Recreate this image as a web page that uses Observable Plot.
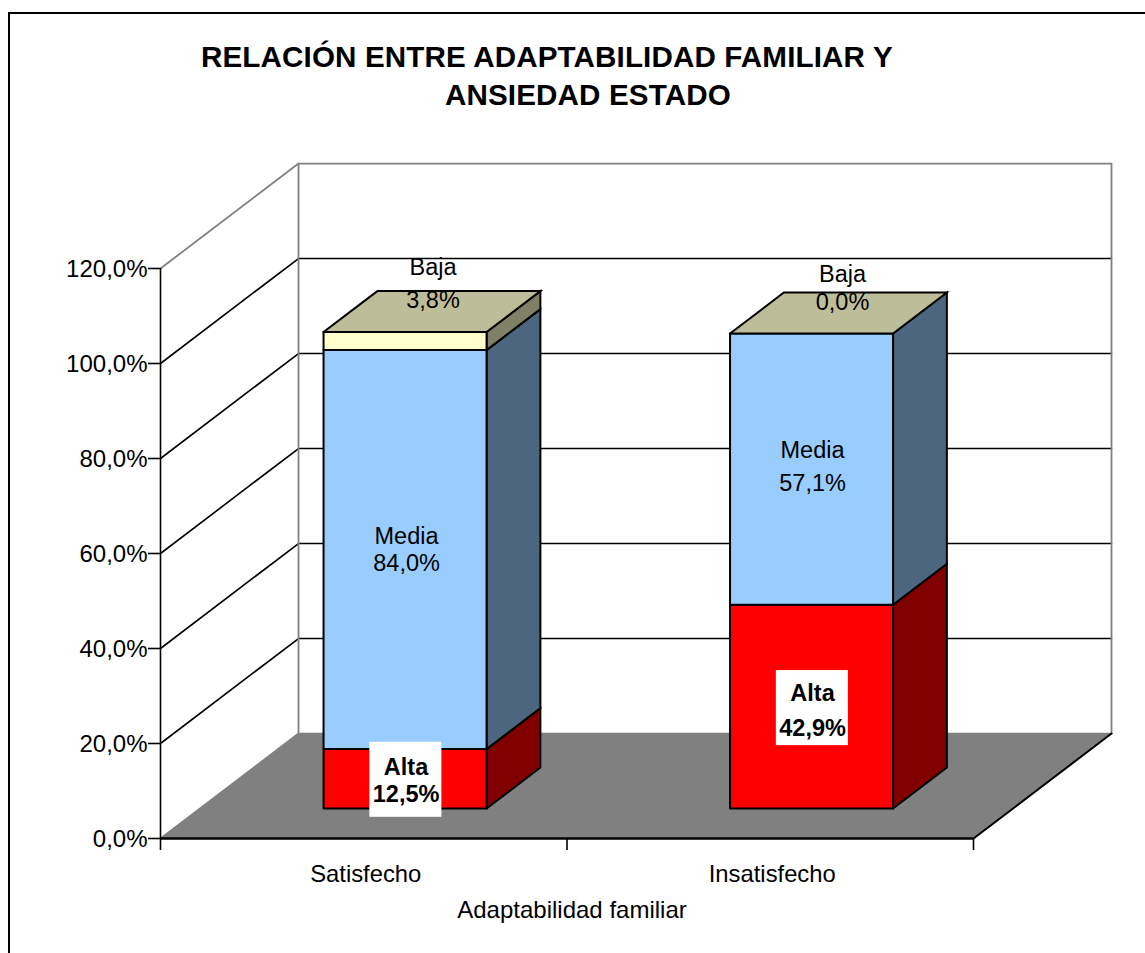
<!DOCTYPE html>
<html lang="es">
<head>
<meta charset="utf-8">
<script src="https://cdn.jsdelivr.net/npm/d3@7"></script>
<script src="https://cdn.jsdelivr.net/npm/@observablehq/plot@0.6"></script>
<style>
html,body{margin:0;padding:0;background:#fff;overflow:hidden;width:1145px;height:953px;}
body{position:relative;font-family:"Liberation Sans",Arial,sans-serif;}
#frame{position:absolute;left:8px;top:12px;width:1200px;height:1000px;border:2px solid #000;box-sizing:border-box;}
.t{position:absolute;margin:0;font-weight:bold;font-size:29.6px;line-height:38px;white-space:nowrap;color:#000;letter-spacing:0.13px;}
#chart{position:absolute;left:0;top:120px;}
#chart svg{display:block;overflow:visible;}
</style>
</head>
<body>
<div id="frame"></div>
<div class="t" id="t1" style="left:201px;top:38px">RELACIÓN ENTRE ADAPTABILIDAD FAMILIAR Y</div>
<div class="t" id="t2" style="left:445px;top:76px">ANSIEDAD ESTADO</div>
<div id="chart"></div>
<script>
// Data
const categories = ["Satisfecho", "Insatisfecho"];
const series = ["Alta", "Media", "Baja"];
const alta = [12.5, 42.9];
const media = [84.0, 57.1];
const baja = [3.8, 0.0];
const yTicks = [0, 20, 40, 60, 80, 100, 120];
const axisTitle = "Adaptabilidad familiar";

const frontColors = {Alta: "#ff0000", Media: "#99ccff", Baja: "#ffffcc"};
const sideColors = {Alta: "#800000", Media: "#4d6680", Baja: "#808066"};
const topColor = "#bdbd99";

// Oblique projection of the 3-D chart, expressed in scale units
const depthX = 0.3395, depthY = 22.1;      // shift from front (z=0) to back (z=1)
const barX0 = 0.304, barX1 = 0.705;        // bar extent inside a category
const barZ0 = 0.286, barZ1 = 0.676;        // bar extent in depth
const P = (x, y, z) => ({x: x + z * depthX, y: y + z * depthY});

const fmt = v => v.toFixed(1).replace(".", ",") + "%";

// Faces of the bars
const faces = [];
function face(id, fill, pts) {
  [...pts, pts[0]].forEach(p => faces.push({id, fill, ...P(...p)}));
}
categories.forEach((c, i) => {
  let base = 0;
  const vals = [alta[i], media[i], baja[i]];
  const x0 = i + barX0, x1 = i + barX1;
  series.forEach((s, k) => {
    const v = vals[k];
    if (v > 0) {
      const t = base + v;
      face(`${c}-${s}-side`, sideColors[s], [[x1, base, barZ0], [x1, base, barZ1], [x1, t, barZ1], [x1, t, barZ0]]);
      face(`${c}-${s}-front`, frontColors[s], [[x0, base, barZ0], [x1, base, barZ0], [x1, t, barZ0], [x0, t, barZ0]]);
      base = t;
    }
  });
  face(`${c}-top`, topColor, [[x0, base, barZ0], [x1, base, barZ0], [x1, base, barZ1], [x0, base, barZ1]]);
});

// Walls and floor
const floor = [[0, 0, 0], [2, 0, 0], [2, 0, 1], [0, 0, 1], [0, 0, 0]].map(p => P(...p));
const gridLines = yTicks.filter(v => v > 0 && v < 120).flatMap(v =>
  [[0, v, 0], [0, v, 1], [2, v, 1]].map(p => ({v, ...P(...p)})));
const grayEdges = [
  [[0, 120, 0], [0, 120, 1], [2, 120, 1], [2, 0, 1]],
  [[0, 120, 1], [0, 0, 1], [0, 0, 0]],
  [[0, 0, 1], [2, 0, 1]]
].flatMap((line, id) => line.map(p => ({id, ...P(...p)})));
const floorEdge = [[0, 0, 0], [2, 0, 0], [2, 0, 1]].map(p => P(...p));

// Value labels
function segMid(i, k) {
  const vals = [alta[i], media[i], baja[i]];
  const lo = d3.sum(vals.slice(0, k));
  return {...P(i + (barX0 + barX1) / 2, lo + vals[k] / 2, barZ0)};
}
function valueLabel(i, k, {dx = 0, dy = 0, lineHeight = 1.3, bold = false}) {
  const vals = [alta[i], media[i], baja[i]];
  return Plot.text([{...segMid(i, k), label: `${series[k]}\n${fmt(vals[k])}`}], {
    x: "x", y: "y", text: "label", dx, dy, lineHeight,
    fontWeight: bold ? "bold" : "normal", fontSize: 23.5, fill: "#000"
  });
}
function labelBox(i, k, dy) {
  const m = segMid(i, k);
  const hx = 0.0886, hy = 7.9;
  return Plot.rect([m], {
    x1: d => d.x - hx + 0.002, x2: d => d.x + hx + 0.002,
    y1: d => d.y - hy, y2: d => d.y + hy,
    dy, fill: "#fff", inset: 0
  });
}

const chart = Plot.plot({
  width: 1145, height: 833,
  marginLeft: 160, marginRight: 172, marginTop: 148, marginBottom: 115,
  x: {domain: [0, 2], axis: null},
  y: {domain: [0, 120], axis: null},
  color: {type: "identity"},
  style: {fontFamily: "'Liberation Sans', Arial, sans-serif", background: "transparent", overflow: "visible"},
  marks: [
    Plot.line(floor, {x: "x", y: "y", fill: "#808080", stroke: "none"}),
    Plot.line(gridLines, {x: "x", y: "y", z: "v", stroke: "#000", strokeWidth: 1.6}),
    Plot.line(grayEdges, {x: "x", y: "y", z: "id", stroke: "#808080", strokeWidth: 1.8}),
    Plot.line(floorEdge, {x: "x", y: "y", stroke: "#000", strokeWidth: 2}),
    Plot.ruleX([0], {y1: 0, y2: 120, stroke: "#000", strokeWidth: 1.6}),
    Plot.ruleY([0], {x1: 0, x2: 2, stroke: "#000", strokeWidth: 2.2}),
    Plot.line(faces, {
      x: "x", y: "y", z: "id", fill: "fill", stroke: "#000", strokeWidth: 2,
      strokeLinejoin: "miter", strokeMiterlimit: 4
    }),
    Plot.axisY({
      ticks: yTicks, tickFormat: () => "", tickSize: 12,
      label: null, strokeWidth: 1.6
    }),
    Plot.axisY({
      ticks: yTicks, tickFormat: fmt, tickSize: 0, tickPadding: 13,
      fontSize: 24, label: null, dy: 1
    }),
    Plot.axisX({
      ticks: [0, 1, 2], tickFormat: () => "", tickSize: 12,
      label: null, strokeWidth: 1.6
    }),
    Plot.axisX({
      ticks: [0.5, 1.5], tickFormat: d => categories[Math.floor(d)], tickSize: 0,
      tickPadding: 27, fontSize: 23.8, label: null, dx: 2
    }),
    Plot.axisX({
      ticks: [1], tickFormat: () => axisTitle, tickSize: 0,
      tickPadding: 62, fontSize: 24, label: null, dx: 5
    }),
    labelBox(0, 0, 1),
    labelBox(1, 0, 1.5),
    valueLabel(0, 0, {dx: 1, dy: 1, lineHeight: 1.15, bold: true}),
    valueLabel(1, 0, {dx: 1, dy: 1, lineHeight: 1.5, bold: true}),
    valueLabel(0, 1, {dx: 1.5, dy: -1, lineHeight: 1.15}),
    valueLabel(1, 1, {dx: 1, dy: -5, lineHeight: 1.4}),
    valueLabel(0, 2, {dx: 28, dy: -60, lineHeight: 1.42}),
    valueLabel(1, 2, {dx: 31, dy: -46.5, lineHeight: 1.17})
  ]
});
document.getElementById("chart").append(chart);
</script>
</body>
</html>
